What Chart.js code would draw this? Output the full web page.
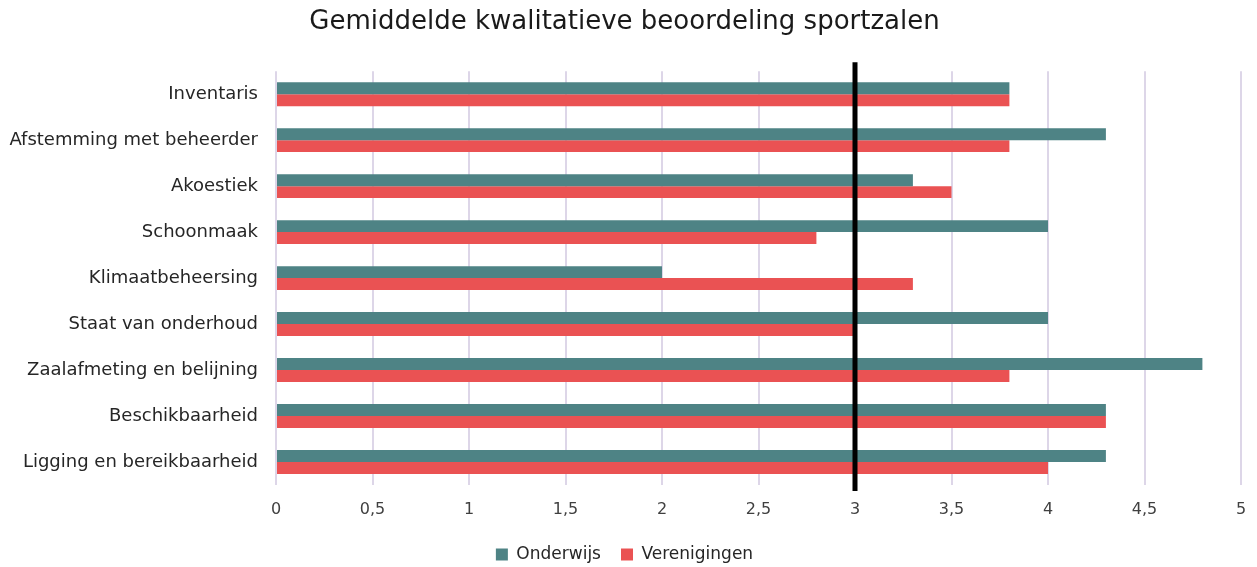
<!DOCTYPE html>
<html>
<head>
<meta charset="utf-8">
<script src="https://cdn.jsdelivr.net/npm/chart.js@4/dist/chart.umd.min.js"></script>
<style>
  html, body { margin: 0; padding: 0; background: #fff; }
  #wrap { width: 1257px; height: 567px; }
</style>
</head>
<body>
<div id="wrap"><canvas id="c" width="1257" height="567"></canvas></div>
<script>
const categories = [
  "Inventaris",
  "Afstemming met beheerder",
  "Akoestiek",
  "Schoonmaak",
  "Klimaatbeheersing",
  "Staat van onderhoud",
  "Zaalafmeting en belijning",
  "Beschikbaarheid",
  "Ligging en bereikbaarheid"
];
const onderwijs    = [3.8, 4.3, 3.3, 4.0, 2.0, 4.0, 4.8, 4.3, 4.3];
const verenigingen = [3.8, 3.8, 3.5, 2.8, 3.3, 3.0, 3.8, 4.3, 4.0];
const referenceValue = 3;
const xTicks = [0, 0.5, 1, 1.5, 2, 2.5, 3, 3.5, 4, 4.5, 5];

const FONT = "'DejaVu Sans', sans-serif";

const refLine = {
  id: 'refLine',
  afterDatasetsDraw(chart) {
    const x = chart.scales.x.getPixelForValue(referenceValue);
    const a = chart.chartArea;
    const ctx = chart.ctx;
    ctx.save();
    ctx.strokeStyle = '#000';
    ctx.lineWidth = 5;
    ctx.beginPath();
    ctx.moveTo(x, a.top - 9);
    ctx.lineTo(x, a.bottom + 6);
    ctx.stroke();
    ctx.restore();
  }
};

new Chart(document.getElementById('c'), {
  type: 'bar',
  data: {
    labels: categories,
    datasets: [
      { label: 'Onderwijs', data: onderwijs, backgroundColor: '#4E8385', borderWidth: 0 },
      { label: 'Verenigingen', data: verenigingen, backgroundColor: '#EA5253', borderWidth: 0 }
    ]
  },
  options: {
    indexAxis: 'y',
    responsive: false,
    animation: false,
    layout: { padding: { left: 8, right: 16, top: 0, bottom: -6 } },
    scales: {
      x: {
        min: 0, max: 5,
        afterBuildTicks(scale) { scale.ticks = xTicks.map(v => ({ value: v })); },
        grid: { color: '#DDD6E8', lineWidth: 2, drawTicks: false },
        border: { display: false },
        ticks: {
          padding: 15,
          color: '#404040',
          font: { family: FONT, size: 16 },
          callback: v => String(v).replace('.', ',')
        },
        afterFit(scale) { scale.height = 41; scale.paddingRight = 0; scale.paddingLeft = 0; }
      },
      y: {
        grid: { display: false, drawTicks: false },
        border: { display: false },
        ticks: { padding: 18, color: '#262626', font: { family: FONT, size: 18 } },
        afterFit(scale) { scale.width = 268; }
      }
    },
    datasets: { bar: { categoryPercentage: 0.52, barPercentage: 1.0 } },
    plugins: {
      title: {
        display: true,
        text: 'Gemiddelde kwalitatieve beoordeling sportzalen',
        color: '#1a1a1a',
        font: { family: FONT, size: 26, weight: 'normal' },
        padding: { top: 7, bottom: 33 }
      },
      legend: {
        position: 'bottom',
        labels: {
          color: '#262626',
          font: { family: FONT, size: 17 },
          boxWidth: 12, boxHeight: 12, padding: 20
        }
      },
      tooltip: { enabled: false }
    }
  },
  plugins: [refLine]
});
</script>
</body>
</html>
